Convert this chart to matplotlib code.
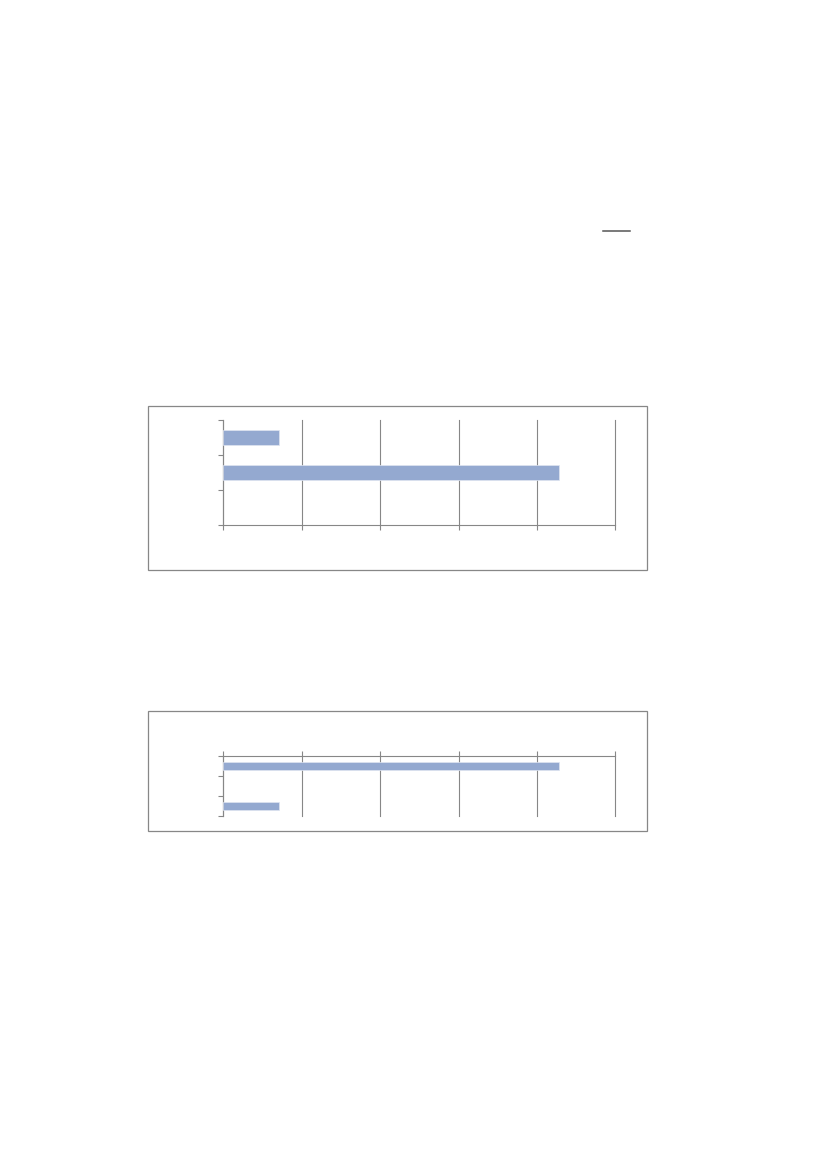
import numpy as np
import matplotlib
matplotlib.use("Agg")
import matplotlib.pyplot as plt
from matplotlib.patches import Rectangle
from matplotlib.lines import Line2D

# data: share of answers in percent (top to bottom)
cats_1 = ["a", "b", "c"]
vals_1 = [14.3, 85.7, 0.0]
cats_2 = ["a", "b", "c"]
vals_2 = [85.7, 0.0, 14.3]
x_ticks = [0, 20, 40, 60, 80, 100]

bar_color = "#94a9d0"
line_gray = "#878787"

W, H = 827, 1170
fig = plt.figure(figsize=(W / 100, H / 100), dpi=100)


def fx(px):
    return px / W


def fy(py):
    return 1 - py / H


# short underline near the top of the page
fig.add_artist(Line2D([fx(603), fx(630)], [fy(230.5), fy(230.5)],
                      color="#555555", lw=1.1))

# chart frames
for top, bottom in [(406, 570), (711, 831)]:
    fig.add_artist(Rectangle((fx(147.5), fy(bottom)), fx(646.5) - fx(147.5),
                             fy(top) - fy(bottom), fill=False,
                             edgecolor=line_gray, lw=0.9))


def style(ax, n):
    ax.set_xlim(0, 100)
    ax.set_ylim(n - 0.5, -0.5)
    ax.set_xticks(x_ticks)
    ax.set_yticks(np.arange(n + 1) - 0.5)
    ax.set_xticklabels([])
    ax.set_yticklabels([])
    ax.tick_params(length=3.3, width=0.8, color=line_gray)
    ax.grid(axis="x", color=line_gray, lw=0.8)
    for g in ax.get_xgridlines():
        g.set_clip_on(False)
    ax.set_axisbelow(True)
    ax.spines["right"].set_visible(False)
    for s in ["left", "top", "bottom"]:
        ax.spines[s].set_color(line_gray)
        ax.spines[s].set_linewidth(0.8)


def bars(ax, vals, h):
    y = np.arange(len(vals))
    v = np.array(vals)
    keep = v > 0
    ax.barh(y[keep], v[keep], height=h, color=bar_color,
            edgecolor="#dfe5f1", lw=0.5, zorder=3)


# chart 1
ax1 = fig.add_axes([fx(223.3), fy(525.3), fx(615.3) - fx(223.3), fy(420) - fy(525.3)])
bars(ax1, vals_1, 0.41)
style(ax1, len(cats_1))
ax1.spines["top"].set_visible(False)

# chart 2
ax2 = fig.add_axes([fx(223.3), fy(816), fx(615.3) - fx(223.3), fy(756.3) - fy(816)])
bars(ax2, vals_2, 0.42)
style(ax2, len(cats_2))
ax2.spines["bottom"].set_visible(False)
ax2.xaxis.tick_top()

fig.savefig("out.png", dpi=100, facecolor="white")
